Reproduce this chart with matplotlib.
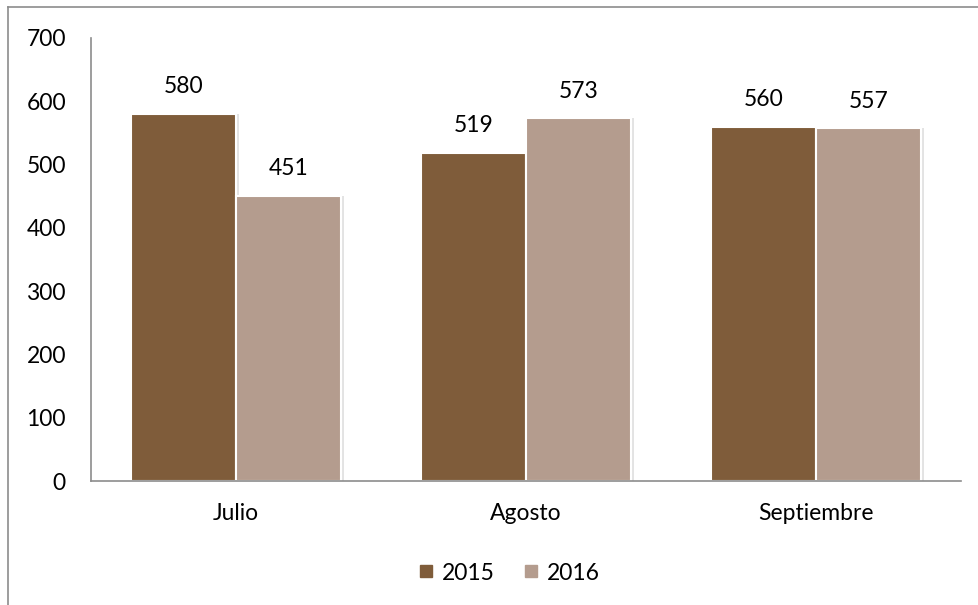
import matplotlib
matplotlib.use("Agg")
import matplotlib.pyplot as plt
import numpy as np
from matplotlib.lines import Line2D

categories = ["Julio", "Agosto", "Septiembre"]
series_names = ["2015", "2016"]
values_2015 = [580, 519, 560]
values_2016 = [451, 573, 557]
yticks = [0, 100, 200, 300, 400, 500, 600, 700]

colors = ["#7F5C3A", "#B49C8E"]

plt.rcParams['font.family'] = ['Lato', 'DejaVu Sans']
FS = 16.5

W, H = 979, 605
fig = plt.figure(figsize=(W / 100, H / 100), dpi=100)
ax = fig.add_axes([91 / W, 1 - 481 / H, (961 - 91) / W, (481 - 38) / H])

x = np.arange(len(categories))
bw = 0.363
for i, (vals, col, name) in enumerate(zip([values_2015, values_2016], colors, series_names)):
    pos = x + (i - 0.5) * bw
    # subtle shadow
    ax.bar(pos + 0.01, vals, bw, color="#e3e3e3", zorder=1, linewidth=0)
    bars = ax.bar(pos, vals, bw, color=col, edgecolor="white", linewidth=1.5, zorder=2, label=name)
    for b, v in zip(bars, vals):
        ax.annotate(str(v), (b.get_x() + b.get_width() / 2, v), xytext=(0, 12),
                    textcoords="offset points", ha="center", va="bottom", fontsize=FS)

ax.set_xlim(-0.5, 2.5)
ax.set_ylim(0, 700)
ax.set_yticks(yticks)
ax.set_yticklabels([str(t) for t in yticks], fontsize=FS)
ax.set_xticks(x)
ax.set_xticklabels(categories, fontsize=FS)
ax.tick_params(axis='both', length=0)
ax.tick_params(axis='x', pad=16)
ax.tick_params(axis='y', pad=18)
for s in ["top", "right"]:
    ax.spines[s].set_visible(False)
for s in ["left", "bottom"]:
    ax.spines[s].set_color("#8c8c8c")
    ax.spines[s].set_linewidth(1.2)

handles = [Line2D([], [], marker='s', linestyle='none', markersize=9, color=c) for c in colors]
fig.legend(handles, series_names, loc='center', bbox_to_anchor=(506 / W, 1 - 573 / H),
           ncol=2, frameon=False, fontsize=FS, handletextpad=0.1, columnspacing=1.0,
           handlelength=1.2)

# figure border (top and left visible)
fig.add_artist(Line2D([8 / W, 8 / W], [0, 1 - 7 / H], transform=fig.transFigure, color="#8c8c8c", lw=1.2))
fig.add_artist(Line2D([8 / W, 1], [1 - 7 / H, 1 - 7 / H], transform=fig.transFigure, color="#8c8c8c", lw=1.2))

fig.savefig("out.png", dpi=100)
